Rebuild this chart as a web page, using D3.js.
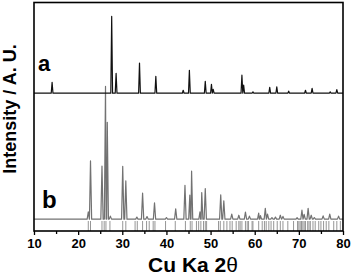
<!DOCTYPE html>
<html>
<head>
<meta charset="utf-8">
<script src="https://cdn.jsdelivr.net/npm/d3@7"></script>
<style>
  html, body { margin: 0; padding: 0; background: #fff; }
  svg { display: block; font-family: "Liberation Sans", Arial, sans-serif; }
</style>
</head>
<body>
<svg id="chart" width="354" height="278"></svg>
<script>
// ---- data (2θ in degrees, intensities in arbitrary units) ----
const xTicks = [10, 20, 30, 40, 50, 60, 70, 80];
const xMinorTicks = [15, 25, 35, 45, 55, 65, 75];

// pattern a: peak positions and relative intensities
const peaksA_pos = [14.1, 27.6, 28.6, 33.9, 37.6, 43.8, 45.2, 48.8, 50.2, 50.6, 57.1, 57.5, 59.6, 63.4, 65.0, 67.7, 71.5, 73.0, 77.1, 78.6];
const peaksA_int = [48, 336, 87, 132, 74, 13, 100, 52, 39, 17, 79, 35, 6, 26, 28, 9, 13, 21, 6, 16];
const offsetA = 603;

// pattern b: peak positions and relative intensities
const peaksB_pos = [22.3, 22.8, 25.4, 26.2, 26.6, 27.3, 30.1, 30.8, 33.3, 34.6, 35.6, 37.3, 40.0, 42.1, 44.2, 45.3, 45.7, 47.6, 48.0, 48.8, 52.3, 53.0, 54.8, 56.4, 57.9, 58.8, 60.9, 61.3, 62.4, 62.9, 63.9, 64.7, 65.8, 66.4, 69.6, 70.7, 71.2, 72.1, 72.8, 73.5, 75.5, 77.0, 79.0];
const peaksB_int = [32, 255, 232, 581, 424, 13, 231, 167, 9, 114, 11, 71, 7, 45, 148, 105, 210, 32, 116, 134, 106, 80, 22, 17, 31, 13, 26, 15, 47, 22, 7, 9, 17, 12, 6, 39, 21, 47, 17, 7, 14, 22, 13];
const offsetB = 52;

// reference stick pattern positions
const sticks = [22.3, 22.8, 25.4, 25.9, 26.3, 27.2, 30.1, 30.8, 32.9, 33.4, 34.6, 35.5, 36.1, 37.0, 37.4, 39.8, 42.0,
  44.3, 45.4, 45.8, 46.8, 47.3, 47.8, 48.4, 48.8, 49.1, 51.8, 52.2, 53.0, 53.7, 54.4, 54.9, 55.8,
  56.4, 56.7, 57.1, 57.9, 58.3, 58.6, 59.4, 59.6, 60.9, 61.7, 62.2, 62.6, 63.2, 63.7, 64.3, 65.1, 65.8, 66.4,
  67.5, 68.8, 69.7, 70.0, 70.3, 70.6, 70.9, 71.2, 71.5, 72.0, 72.3, 72.6, 73.2, 73.7, 74.5, 75.0, 75.6, 76.2, 76.8,
  77.9, 78.6, 79.4];

// ---- layout ----
const svg = d3.select("#chart");
const L = 34, R = 343, T = 2.5, B = 231;
const x = d3.scaleLinear().domain([10, 80]).range([L, R]);
const y = d3.scaleLinear().domain([0, 1000]).range([B, T]);

function profile(pos, inten, offset, hw) {
  const pts = [[10, offset]];
  pos.forEach((p, i) => {
    pts.push([p - hw, offset]);
    pts.push([p, offset + inten[i]]);
    pts.push([p + hw, offset]);
  });
  pts.push([80, offset]);
  pts.sort((a, b) => a[0] - b[0]);
  return pts;
}

const line = d3.line().x(d => x(d[0])).y(d => y(d[1]));

// sticks
svg.append("g").selectAll("line").data(sticks).join("line")
  .attr("x1", d => x(d)).attr("x2", d => x(d))
  .attr("y1", B - 10).attr("y2", B)
  .attr("stroke", "#8a8a8a").attr("stroke-width", 0.9);

// pattern b
svg.append("path").datum(profile(peaksB_pos, peaksB_int, offsetB, 0.26))
  .attr("d", line).attr("fill", "none")
  .attr("stroke", "#727272").attr("stroke-width", 1.2).attr("stroke-linejoin", "round");

// pattern a
svg.append("path").datum(profile(peaksA_pos, peaksA_int, offsetA, 0.2))
  .attr("d", line).attr("fill", "none")
  .attr("stroke", "#111").attr("stroke-width", 1.2).attr("stroke-linejoin", "round");

// frame
svg.append("rect").attr("x", L).attr("y", T).attr("width", R - L).attr("height", B - T)
  .attr("fill", "none").attr("stroke", "#000").attr("stroke-width", 1.6);

// x axis
const xAxis = svg.append("g").attr("transform", `translate(0,${B})`)
  .call(d3.axisBottom(x).tickValues(xTicks).tickSize(4).tickPadding(4).tickFormat(d3.format("d")));
xAxis.select(".domain").remove();
xAxis.selectAll(".tick line").attr("stroke", "#000").attr("stroke-width", 1.3);
xAxis.selectAll(".tick text").attr("font-size", 13).attr("font-weight", "bold")
  .attr("fill", "#000").attr("font-family", "Liberation Sans, Arial, sans-serif");

const xMinor = svg.append("g").attr("transform", `translate(0,${B})`)
  .call(d3.axisBottom(x).tickValues(xMinorTicks).tickSize(3).tickFormat(""));
xMinor.select(".domain").remove();
xMinor.selectAll(".tick line").attr("stroke", "#000").attr("stroke-width", 1.3);

// labels
svg.append("text").attr("x", 38).attr("y", 71).text("a")
  .attr("font-size", 22).attr("font-weight", "bold");
svg.append("text").attr("x", 42).attr("y", 208).text("b")
  .attr("font-size", 24).attr("font-weight", "bold");

svg.append("text").attr("transform", "translate(16,109) rotate(-90)")
  .attr("text-anchor", "middle").attr("font-size", 18).attr("font-weight", "bold")
  .text("Intensity / A. U.");

const xl = svg.append("text").attr("x", 193).attr("y", 272)
  .attr("text-anchor", "middle").attr("font-size", 21).attr("font-weight", "bold");
xl.append("tspan").text("Cu Ka 2");
xl.append("tspan").attr("font-weight", "normal").text("θ");
</script>
</body>
</html>
